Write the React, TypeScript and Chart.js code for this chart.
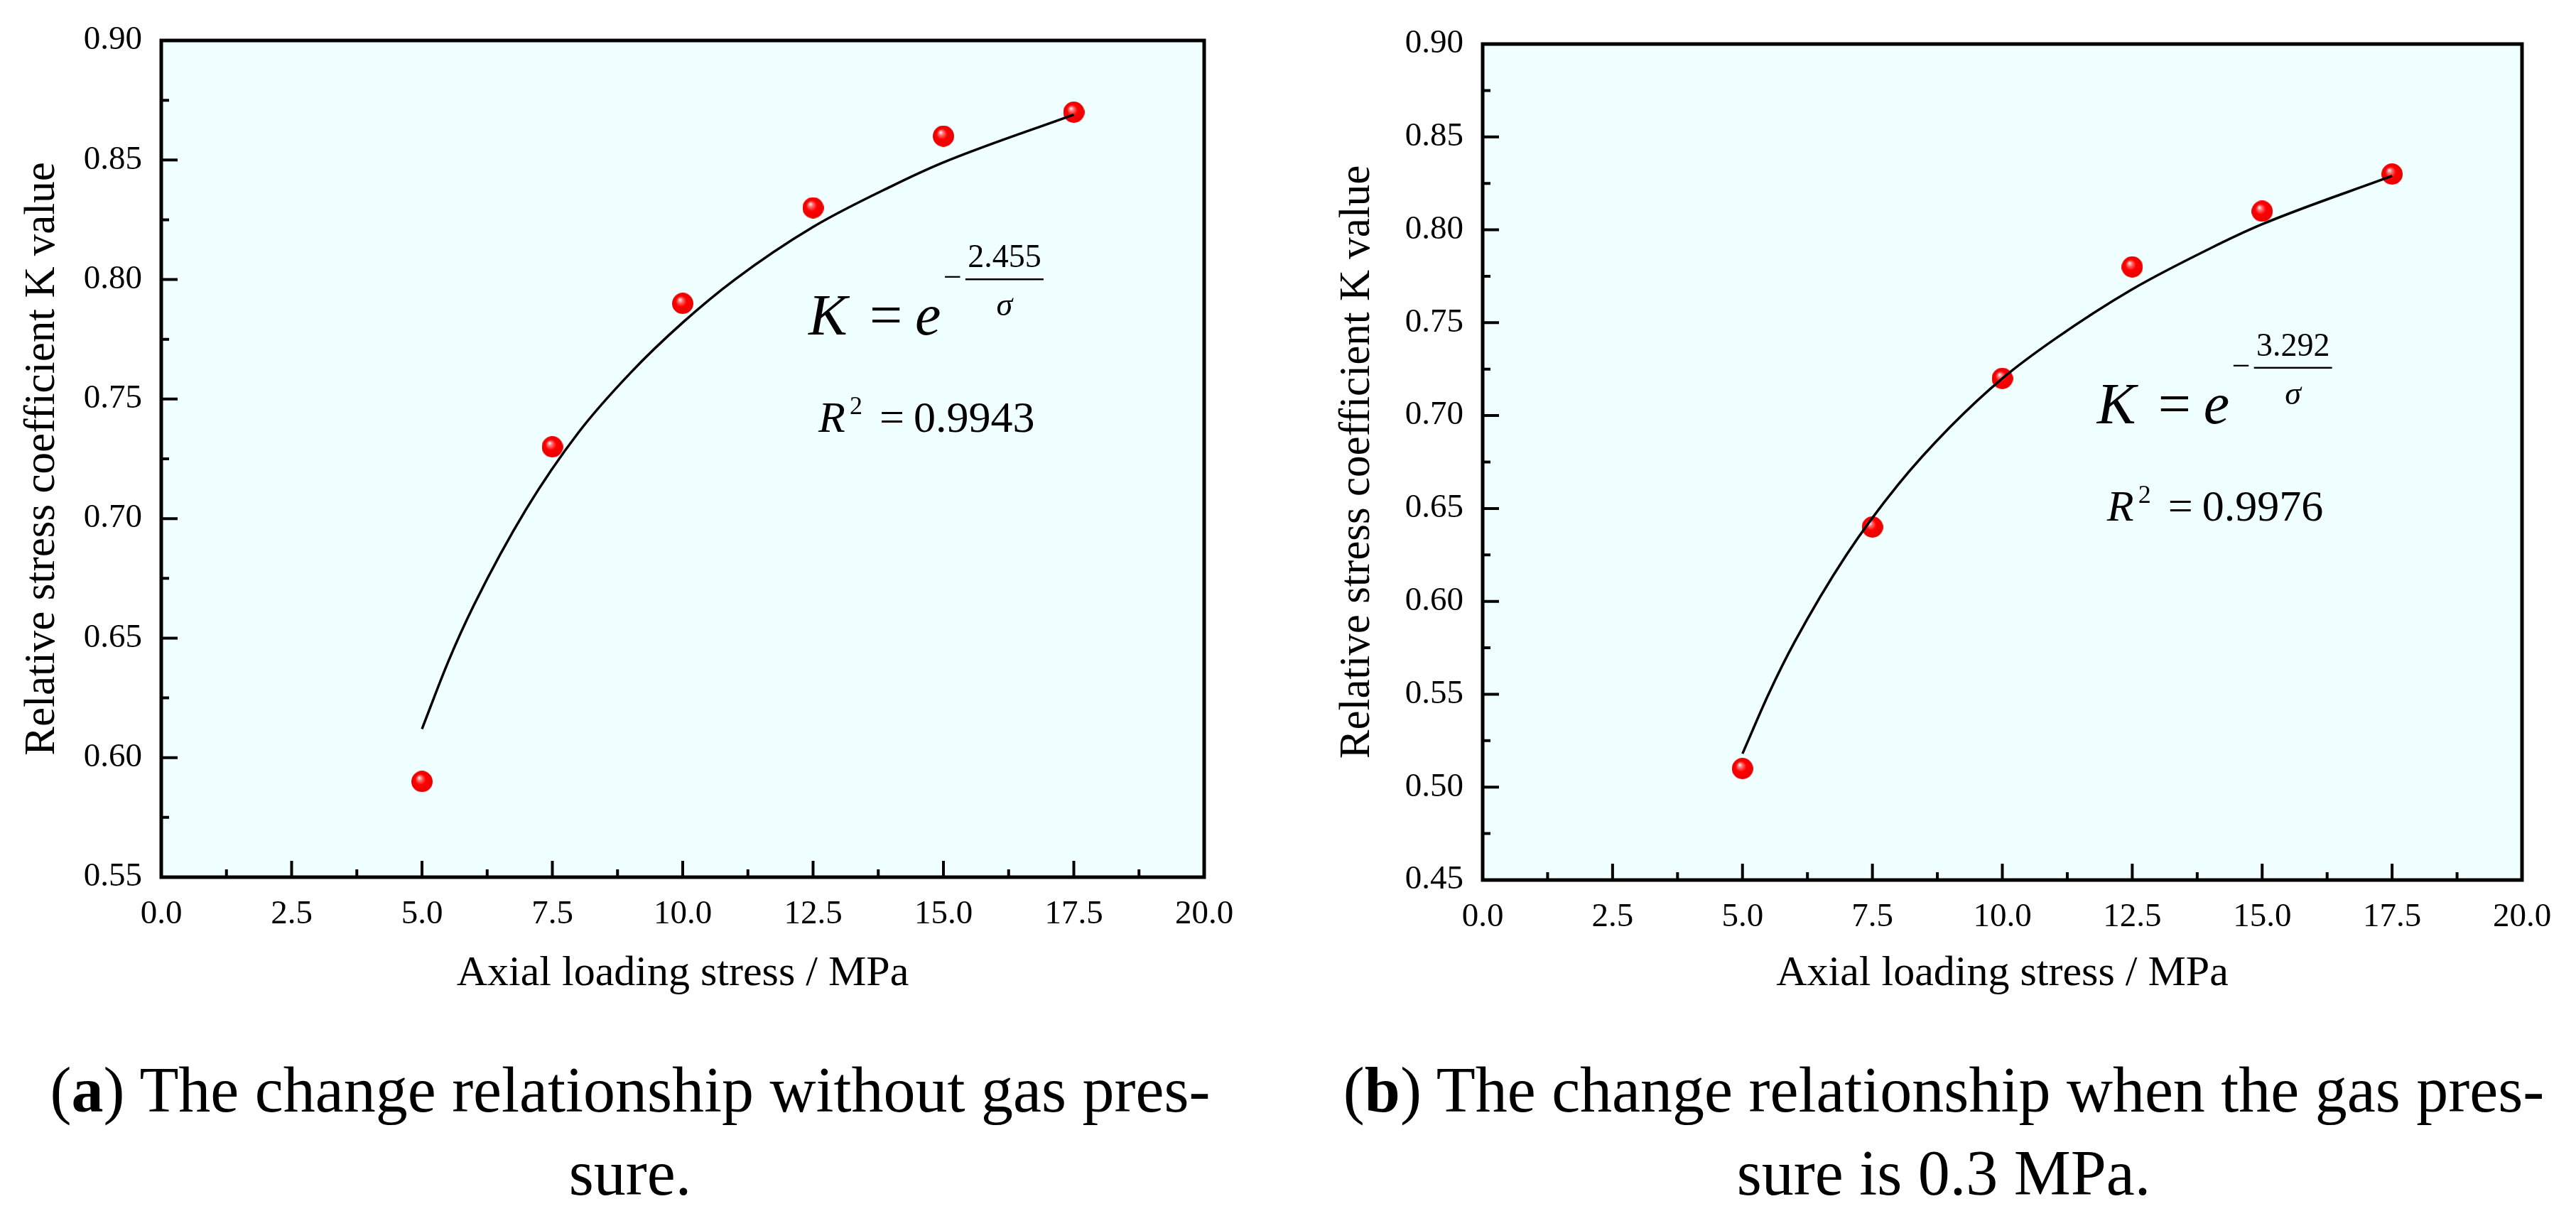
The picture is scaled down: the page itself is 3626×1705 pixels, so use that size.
import React, { useEffect, useRef } from 'react';
import { Chart, registerables } from 'chart.js';

Chart.register(...registerables);

// ---------- data ----------
const stressA = [5, 7.5, 10, 12.5, 15, 17.5];
const kA = [0.59, 0.73, 0.79, 0.83, 0.86, 0.87];
const fitXA = [5, 5.5, 6, 7, 8, 9, 10, 11, 12.5, 14, 15, 17.5];
const fitKA = [0.612, 0.64, 0.664, 0.704, 0.736, 0.761, 0.782, 0.8, 0.822, 0.839, 0.849, 0.869];

const stressB = [5, 7.5, 10, 12.5, 15, 17.5];
const kB = [0.51, 0.64, 0.72, 0.78, 0.81, 0.83];
const fitXB = [5, 5.5, 6, 7, 8, 9, 10, 11, 12.5, 14, 15, 17.5];
const fitKB = [0.518, 0.55, 0.578, 0.625, 0.663, 0.694, 0.72, 0.741, 0.768, 0.79, 0.803, 0.829];

const xTicks = [0, 2.5, 5, 7.5, 10, 12.5, 15, 17.5, 20];
const yTicksA = [0.55, 0.6, 0.65, 0.7, 0.75, 0.8, 0.85, 0.9];
const yTicksB = [0.45, 0.5, 0.55, 0.6, 0.65, 0.7, 0.75, 0.8, 0.85, 0.9];

const coefA = '2.455';
const r2A = '0.9943';
const coefB = '3.292';
const r2B = '0.9976';

const xTitle = 'Axial loading stress / MPa';
const yTitle = 'Relative stress coefficient K value';

const FONT = '"Liberation Serif", "Times New Roman", serif';

function makeBall(r: number) {
  const c = document.createElement('canvas');
  c.width = r * 2;
  c.height = r * 2;
  const g = c.getContext('2d')!;
  const grad = g.createRadialGradient(r * 0.72, r * 0.62, 0, r, r, r);
  grad.addColorStop(0, '#ffffff');
  grad.addColorStop(0.22, '#ff7070');
  grad.addColorStop(0.5, '#ff0000');
  grad.addColorStop(1, '#e80000');
  g.fillStyle = grad;
  g.beginPath();
  g.arc(r, r, r, 0, Math.PI * 2);
  g.fill();
  return c;
}

const framePlugin = {
  id: 'frameTicks',
  beforeDraw(chart: any) {
    const { ctx, chartArea } = chart;
    ctx.save();
    ctx.fillStyle = '#F0FFFF';
    ctx.fillRect(chartArea.left, chartArea.top, chartArea.right - chartArea.left, chartArea.bottom - chartArea.top);
    ctx.restore();
  },
  afterDraw(chart: any) {
    const { ctx, chartArea } = chart;
    const { left, right, top, bottom } = chartArea;
    const xs = chart.scales.x;
    const ys = chart.scales.y;
    ctx.save();
    ctx.strokeStyle = '#000';
    ctx.lineWidth = 4;
    const major = 23;
    const minor = 11;
    const xv = xs.ticks.map((t: any) => t.value);
    const yv = ys.ticks.map((t: any) => t.value);
    ctx.beginPath();
    xv.forEach((v: number, i: number) => {
      const p = xs.getPixelForValue(v);
      ctx.moveTo(p, bottom);
      ctx.lineTo(p, bottom - major);
      if (i < xv.length - 1) {
        const m = xs.getPixelForValue((v + xv[i + 1]) / 2);
        ctx.moveTo(m, bottom);
        ctx.lineTo(m, bottom - minor);
      }
    });
    yv.forEach((v: number, i: number) => {
      const p = ys.getPixelForValue(v);
      ctx.moveTo(left, p);
      ctx.lineTo(left + major, p);
      if (i < yv.length - 1) {
        const m = ys.getPixelForValue((v + yv[i + 1]) / 2);
        ctx.moveTo(left, m);
        ctx.lineTo(left + minor, m);
      }
    });
    ctx.stroke();
    ctx.lineWidth = 5;
    ctx.strokeRect(left, top, right - left, bottom - top);
    ctx.restore();
  },
};

const eqnPlugin = {
  id: 'eqn',
  afterDatasetsDraw(chart: any) {
    const e = chart.options.plugins.eqn;
    if (!e) return;
    const { ctx } = chart;
    const X = chart.scales.x.getPixelForValue(e.x);
    const Y = chart.scales.y.getPixelForValue(e.y);
    ctx.save();
    ctx.fillStyle = '#000';
    ctx.textBaseline = 'alphabetic';
    ctx.textAlign = 'left';
    ctx.font = `italic 82px ${FONT}`;
    ctx.fillText('K', X, Y);
    ctx.font = `82px ${FONT}`;
    ctx.fillText('=', X + 86, Y);
    ctx.font = `italic 82px ${FONT}`;
    ctx.fillText('e', X + 150, Y);
    ctx.font = `46px ${FONT}`;
    ctx.fillText('\u2212', X + 190, Y - 66);
    ctx.fillRect(X + 221, Y - 79, 110, 2.5);
    ctx.textAlign = 'center';
    ctx.fillText(e.coef, X + 276, Y - 95);
    ctx.font = `italic 46px ${FONT}`;
    ctx.fillText('\u03C3', X + 276, Y - 27);
    ctx.textAlign = 'left';
    ctx.font = `italic 62px ${FONT}`;
    ctx.fillText('R', X + 14, Y + 137);
    ctx.font = `36px ${FONT}`;
    ctx.fillText('2', X + 58, Y + 112);
    ctx.font = `62px ${FONT}`;
    ctx.fillText('=', X + 100, Y + 137);
    ctx.fillText(e.r2, X + 148, Y + 137);
    ctx.restore();
  },
};

interface PanelCfg {
  left: number;
  width: number;
  yWidth: number;
  padTop: number;
  padRight: number;
  xHeight: number;
  yMin: number;
  yMax: number;
  yTicks: number[];
  xs: number[];
  ks: number[];
  fitX: number[];
  fitK: number[];
  eqX: number;
  eqY: number;
  coef: string;
  r2: string;
  yTitlePad: number;
}

const H = 1420;

function Panel({ cfg }: { cfg: PanelCfg }) {
  const ref = useRef<HTMLCanvasElement>(null);
  useEffect(() => {
    const ball = makeBall(15);
    const chart = new Chart(ref.current!, {
      type: 'scatter',
      data: {
        datasets: [
          {
            type: 'line',
            data: cfg.fitX.map((x, i) => ({ x, y: cfg.fitK[i] })),
            borderColor: '#000',
            borderWidth: 3.5,
            pointRadius: 0,
            fill: false,
            cubicInterpolationMode: 'monotone',
            order: 0,
          } as any,
          {
            type: 'scatter',
            data: cfg.xs.map((x, i) => ({ x, y: cfg.ks[i] })),
            pointStyle: ball as any,
            pointRadius: 15,
            order: 1,
          } as any,
        ],
      },
      options: {
        animation: false,
        responsive: false,
        devicePixelRatio: 1,
        events: [],
        layout: { padding: { left: 0, top: cfg.padTop, right: cfg.padRight, bottom: 0 } },
        plugins: {
          legend: { display: false },
          tooltip: { enabled: false },
          eqn: { x: cfg.eqX, y: cfg.eqY, coef: cfg.coef, r2: cfg.r2 },
        } as any,
        scales: {
          x: {
            type: 'linear',
            min: 0,
            max: 20,
            afterBuildTicks: (s: any) => {
              s.ticks = xTicks.map((v) => ({ value: v }));
            },
            afterFit: (s: any) => {
              s.height = H - (H - cfg.xHeight) ;
            },
            grid: { display: false, drawTicks: false },
            border: { display: false },
            ticks: {
              color: '#000',
              font: { family: FONT, size: 47 },
              padding: 24,
              maxRotation: 0,
              autoSkip: false,
              callback: (v: any) => Number(v).toFixed(1),
            },
            title: {
              display: true,
              text: xTitle,
              color: '#000',
              font: { family: FONT, size: 60, lineHeight: 1.2 },
              padding: { top: 0, bottom: 13 },
            },
          },
          y: {
            type: 'linear',
            min: cfg.yMin,
            max: cfg.yMax,
            afterBuildTicks: (s: any) => {
              s.ticks = cfg.yTicks.map((v) => ({ value: v }));
            },
            afterFit: (s: any) => {
              s.width = cfg.yWidth;
            },
            grid: { display: false, drawTicks: false },
            border: { display: false },
            ticks: {
              color: '#000',
              font: { family: FONT, size: 47 },
              padding: 27,
              autoSkip: false,
              callback: (v: any) => Number(v).toFixed(2),
            },
            title: {
              display: true,
              text: yTitle,
              color: '#000',
              font: { family: FONT, size: 61, lineHeight: 1.2 },
              padding: { top: cfg.yTitlePad, bottom: 0 },
            },
          },
        },
      },
      plugins: [framePlugin, eqnPlugin],
    });
    return () => chart.destroy();
  }, []);
  return (
    <canvas
      ref={ref}
      width={cfg.width}
      height={H}
      style={{ position: 'absolute', left: cfg.left, top: 0, width: cfg.width, height: H }}
    />
  );
}

const panelA: PanelCfg = {
  left: 0,
  width: 1813,
  yWidth: 227,
  padTop: 57,
  padRight: 1813 - 1695,
  xHeight: H - 1235 - 0,
  yMin: 0.55,
  yMax: 0.9,
  yTicks: yTicksA,
  xs: stressA,
  ks: kA,
  fitX: fitXA,
  fitK: fitKA,
  eqX: 12.41,
  eqY: 0.777,
  coef: coefA,
  r2: r2A,
  yTitlePad: 60 - 37,
};

const panelB: PanelCfg = {
  left: 1813,
  width: 1813,
  yWidth: 2087 - 1813,
  padTop: 62,
  padRight: 1813 - (3550 - 1813),
  xHeight: H - 1239,
  yMin: 0.45,
  yMax: 0.9,
  yTicks: yTicksB,
  xs: stressB,
  ks: kB,
  fitX: fitXB,
  fitK: fitKB,
  eqX: 11.82,
  eqY: 0.696,
  coef: coefB,
  r2: r2B,
  yTitlePad: 98 - 37,
};

const capStyle: React.CSSProperties = {
  position: 'absolute',
  width: 1800,
  textAlign: 'center',
  fontFamily: FONT,
  fontSize: 90,
  lineHeight: '117px',
  whiteSpace: 'nowrap',
  color: '#000',
};

export default function App() {
  return (
    <div style={{ position: 'absolute', left: 0, top: 0, width: 3626, height: 1705, background: '#fff', overflow: 'hidden' }}>
      <Panel cfg={panelA} />
      <Panel cfg={panelB} />
      <div style={{ ...capStyle, left: 887 - 900, top: 1476 }}>
        (<b>a</b>) The change relationship without gas pres-
        <br />
        sure.
      </div>
      <div style={{ ...capStyle, left: 2736 - 900, top: 1476 }}>
        (<b>b</b>) The change relationship when the gas pres-
        <br />
        sure is 0.3 MPa.
      </div>
    </div>
  );
}
